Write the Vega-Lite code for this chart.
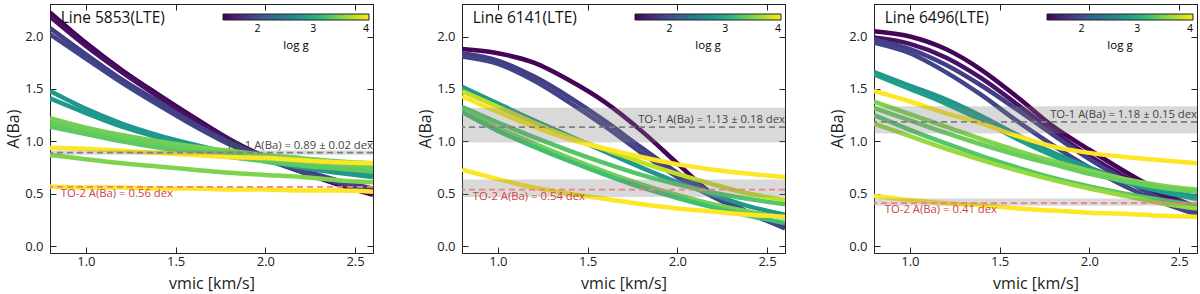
{
  "$schema": "https://vega.github.io/schema/vega-lite/v6.json",
  "padding": {"left": 5, "top": 3, "right": 0, "bottom": 0},
  "background": "white",
  "config": {
    "font": "Open Sans",
    "view": {"stroke": "#222", "strokeWidth": 1},
    "axis": {"grid": false, "domainColor": "#222", "tickColor": "#222", "tickSize": -6, "tickWidth": 1, "domainWidth": 1, "labelFontSize": 13, "labelColor": "#222", "titleFontSize": 16, "titleFontWeight": "normal", "titleColor": "#222"},
    "axisX": {"labelPadding": 8, "titlePadding": 7},
    "axisY": {"labelPadding": 13, "titlePadding": 3}
  },
  "resolve": {"scale": {"color": "independent"}, "legend": {"color": "independent"}},
  "spacing": 40,
  "datasets": {
    "curves": [
      {"p":1,"c":"a","g":1.40,"x":0.8,"y":2.23},{"p":1,"c":"a","g":1.40,"x":1.0,"y":1.94},{"p":1,"c":"a","g":1.40,"x":1.2,"y":1.68},{"p":1,"c":"a","g":1.40,"x":1.4,"y":1.45},{"p":1,"c":"a","g":1.40,"x":1.6,"y":1.23},{"p":1,"c":"a","g":1.40,"x":1.8,"y":1.02},{"p":1,"c":"a","g":1.40,"x":2.0,"y":0.85},{"p":1,"c":"a","g":1.40,"x":2.2,"y":0.71},{"p":1,"c":"a","g":1.40,"x":2.4,"y":0.59},{"p":1,"c":"a","g":1.40,"x":2.6,"y":0.49},
      {"p":1,"c":"b","g":1.48,"x":0.8,"y":2.19},{"p":1,"c":"b","g":1.48,"x":1.0,"y":1.91},{"p":1,"c":"b","g":1.48,"x":1.2,"y":1.66},{"p":1,"c":"b","g":1.48,"x":1.4,"y":1.43},{"p":1,"c":"b","g":1.48,"x":1.6,"y":1.21},{"p":1,"c":"b","g":1.48,"x":1.8,"y":1.01},{"p":1,"c":"b","g":1.48,"x":2.0,"y":0.85},{"p":1,"c":"b","g":1.48,"x":2.2,"y":0.71},{"p":1,"c":"b","g":1.48,"x":2.4,"y":0.60},{"p":1,"c":"b","g":1.48,"x":2.6,"y":0.51},
      {"p":1,"c":"c","g":1.85,"x":0.8,"y":2.08},{"p":1,"c":"c","g":1.85,"x":1.0,"y":1.83},{"p":1,"c":"c","g":1.85,"x":1.2,"y":1.59},{"p":1,"c":"c","g":1.85,"x":1.4,"y":1.38},{"p":1,"c":"c","g":1.85,"x":1.6,"y":1.17},{"p":1,"c":"c","g":1.85,"x":1.8,"y":0.99},{"p":1,"c":"c","g":1.85,"x":2.0,"y":0.85},{"p":1,"c":"c","g":1.85,"x":2.2,"y":0.73},{"p":1,"c":"c","g":1.85,"x":2.4,"y":0.63},{"p":1,"c":"c","g":1.85,"x":2.6,"y":0.55},
      {"p":1,"c":"d","g":1.90,"x":0.8,"y":2.02},{"p":1,"c":"d","g":1.90,"x":1.0,"y":1.79},{"p":1,"c":"d","g":1.90,"x":1.2,"y":1.56},{"p":1,"c":"d","g":1.90,"x":1.4,"y":1.35},{"p":1,"c":"d","g":1.90,"x":1.6,"y":1.15},{"p":1,"c":"d","g":1.90,"x":1.8,"y":0.97},{"p":1,"c":"d","g":1.90,"x":2.0,"y":0.83},{"p":1,"c":"d","g":1.90,"x":2.2,"y":0.71},{"p":1,"c":"d","g":1.90,"x":2.4,"y":0.61},{"p":1,"c":"d","g":1.90,"x":2.6,"y":0.53},
      {"p":1,"c":"e","g":2.75,"x":0.8,"y":1.48},{"p":1,"c":"e","g":2.75,"x":1.0,"y":1.31},{"p":1,"c":"e","g":2.75,"x":1.2,"y":1.17},{"p":1,"c":"e","g":2.75,"x":1.4,"y":1.06},{"p":1,"c":"e","g":2.75,"x":1.6,"y":0.97},{"p":1,"c":"e","g":2.75,"x":1.8,"y":0.89},{"p":1,"c":"e","g":2.75,"x":2.0,"y":0.82},{"p":1,"c":"e","g":2.75,"x":2.2,"y":0.77},{"p":1,"c":"e","g":2.75,"x":2.4,"y":0.72},{"p":1,"c":"e","g":2.75,"x":2.6,"y":0.68},
      {"p":1,"c":"f","g":2.80,"x":0.8,"y":1.41},{"p":1,"c":"f","g":2.80,"x":1.0,"y":1.27},{"p":1,"c":"f","g":2.80,"x":1.2,"y":1.14},{"p":1,"c":"f","g":2.80,"x":1.4,"y":1.04},{"p":1,"c":"f","g":2.80,"x":1.6,"y":0.95},{"p":1,"c":"f","g":2.80,"x":1.8,"y":0.87},{"p":1,"c":"f","g":2.80,"x":2.0,"y":0.81},{"p":1,"c":"f","g":2.80,"x":2.2,"y":0.75},{"p":1,"c":"f","g":2.80,"x":2.4,"y":0.70},{"p":1,"c":"f","g":2.80,"x":2.6,"y":0.66},
      {"p":1,"c":"g","g":3.45,"x":0.8,"y":1.22},{"p":1,"c":"g","g":3.45,"x":1.0,"y":1.13},{"p":1,"c":"g","g":3.45,"x":1.2,"y":1.06},{"p":1,"c":"g","g":3.45,"x":1.4,"y":1.00},{"p":1,"c":"g","g":3.45,"x":1.6,"y":0.95},{"p":1,"c":"g","g":3.45,"x":1.8,"y":0.91},{"p":1,"c":"g","g":3.45,"x":2.0,"y":0.87},{"p":1,"c":"g","g":3.45,"x":2.2,"y":0.84},{"p":1,"c":"g","g":3.45,"x":2.4,"y":0.81},{"p":1,"c":"g","g":3.45,"x":2.6,"y":0.79},
      {"p":1,"c":"h","g":3.40,"x":0.8,"y":1.18},{"p":1,"c":"h","g":3.40,"x":1.0,"y":1.10},{"p":1,"c":"h","g":3.40,"x":1.2,"y":1.03},{"p":1,"c":"h","g":3.40,"x":1.4,"y":0.97},{"p":1,"c":"h","g":3.40,"x":1.6,"y":0.92},{"p":1,"c":"h","g":3.40,"x":1.8,"y":0.88},{"p":1,"c":"h","g":3.40,"x":2.0,"y":0.84},{"p":1,"c":"h","g":3.40,"x":2.2,"y":0.80},{"p":1,"c":"h","g":3.40,"x":2.4,"y":0.77},{"p":1,"c":"h","g":3.40,"x":2.6,"y":0.75},
      {"p":1,"c":"i","g":3.35,"x":0.8,"y":1.14},{"p":1,"c":"i","g":3.35,"x":1.0,"y":1.07},{"p":1,"c":"i","g":3.35,"x":1.2,"y":1.00},{"p":1,"c":"i","g":3.35,"x":1.4,"y":0.94},{"p":1,"c":"i","g":3.35,"x":1.6,"y":0.89},{"p":1,"c":"i","g":3.35,"x":1.8,"y":0.85},{"p":1,"c":"i","g":3.35,"x":2.0,"y":0.81},{"p":1,"c":"i","g":3.35,"x":2.2,"y":0.77},{"p":1,"c":"i","g":3.35,"x":2.4,"y":0.74},{"p":1,"c":"i","g":3.35,"x":2.6,"y":0.71},
      {"p":1,"c":"j","g":3.50,"x":0.8,"y":0.87},{"p":1,"c":"j","g":3.50,"x":1.0,"y":0.83},{"p":1,"c":"j","g":3.50,"x":1.2,"y":0.79},{"p":1,"c":"j","g":3.50,"x":1.4,"y":0.76},{"p":1,"c":"j","g":3.50,"x":1.6,"y":0.73},{"p":1,"c":"j","g":3.50,"x":1.8,"y":0.70},{"p":1,"c":"j","g":3.50,"x":2.0,"y":0.68},{"p":1,"c":"j","g":3.50,"x":2.2,"y":0.66},{"p":1,"c":"j","g":3.50,"x":2.4,"y":0.63},{"p":1,"c":"j","g":3.50,"x":2.6,"y":0.61},
      {"p":1,"c":"k","g":4.00,"x":0.8,"y":0.94},{"p":1,"c":"k","g":4.00,"x":1.0,"y":0.93},{"p":1,"c":"k","g":4.00,"x":1.2,"y":0.91},{"p":1,"c":"k","g":4.00,"x":1.4,"y":0.89},{"p":1,"c":"k","g":4.00,"x":1.6,"y":0.87},{"p":1,"c":"k","g":4.00,"x":1.8,"y":0.85},{"p":1,"c":"k","g":4.00,"x":2.0,"y":0.84},{"p":1,"c":"k","g":4.00,"x":2.2,"y":0.82},{"p":1,"c":"k","g":4.00,"x":2.4,"y":0.80},{"p":1,"c":"k","g":4.00,"x":2.6,"y":0.79},
      {"p":1,"c":"l","g":4.00,"x":0.8,"y":0.57},{"p":1,"c":"l","g":4.00,"x":1.0,"y":0.56},{"p":1,"c":"l","g":4.00,"x":1.2,"y":0.56},{"p":1,"c":"l","g":4.00,"x":1.4,"y":0.55},{"p":1,"c":"l","g":4.00,"x":1.6,"y":0.55},{"p":1,"c":"l","g":4.00,"x":1.8,"y":0.54},{"p":1,"c":"l","g":4.00,"x":2.0,"y":0.54},{"p":1,"c":"l","g":4.00,"x":2.2,"y":0.53},{"p":1,"c":"l","g":4.00,"x":2.4,"y":0.53},{"p":1,"c":"l","g":4.00,"x":2.6,"y":0.52},

      {"p":2,"c":"a","g":1.40,"x":0.8,"y":1.88},{"p":2,"c":"a","g":1.40,"x":1.0,"y":1.84},{"p":2,"c":"a","g":1.40,"x":1.2,"y":1.75},{"p":2,"c":"a","g":1.40,"x":1.4,"y":1.58},{"p":2,"c":"a","g":1.40,"x":1.6,"y":1.37},{"p":2,"c":"a","g":1.40,"x":1.8,"y":1.10},{"p":2,"c":"a","g":1.40,"x":2.0,"y":0.79},{"p":2,"c":"a","g":1.40,"x":2.2,"y":0.49},{"p":2,"c":"a","g":1.40,"x":2.4,"y":0.31},{"p":2,"c":"a","g":1.40,"x":2.6,"y":0.21},
      {"p":2,"c":"b","g":1.85,"x":0.8,"y":1.84},{"p":2,"c":"b","g":1.85,"x":1.0,"y":1.77},{"p":2,"c":"b","g":1.85,"x":1.2,"y":1.62},{"p":2,"c":"b","g":1.85,"x":1.4,"y":1.42},{"p":2,"c":"b","g":1.85,"x":1.6,"y":1.19},{"p":2,"c":"b","g":1.85,"x":1.8,"y":0.94},{"p":2,"c":"b","g":1.85,"x":2.0,"y":0.70},{"p":2,"c":"b","g":1.85,"x":2.2,"y":0.50},{"p":2,"c":"b","g":1.85,"x":2.4,"y":0.32},{"p":2,"c":"b","g":1.85,"x":2.6,"y":0.17},
      {"p":2,"c":"c","g":1.90,"x":0.8,"y":1.81},{"p":2,"c":"c","g":1.90,"x":1.0,"y":1.74},{"p":2,"c":"c","g":1.90,"x":1.2,"y":1.58},{"p":2,"c":"c","g":1.90,"x":1.4,"y":1.37},{"p":2,"c":"c","g":1.90,"x":1.6,"y":1.14},{"p":2,"c":"c","g":1.90,"x":1.8,"y":0.89},{"p":2,"c":"c","g":1.90,"x":2.0,"y":0.66},{"p":2,"c":"c","g":1.90,"x":2.2,"y":0.47},{"p":2,"c":"c","g":1.90,"x":2.4,"y":0.31},{"p":2,"c":"c","g":1.90,"x":2.6,"y":0.18},
      {"p":2,"c":"d","g":2.75,"x":0.8,"y":1.52},{"p":2,"c":"d","g":2.75,"x":1.0,"y":1.36},{"p":2,"c":"d","g":2.75,"x":1.2,"y":1.20},{"p":2,"c":"d","g":2.75,"x":1.4,"y":1.05},{"p":2,"c":"d","g":2.75,"x":1.6,"y":0.90},{"p":2,"c":"d","g":2.75,"x":1.8,"y":0.75},{"p":2,"c":"d","g":2.75,"x":2.0,"y":0.61},{"p":2,"c":"d","g":2.75,"x":2.2,"y":0.49},{"p":2,"c":"d","g":2.75,"x":2.4,"y":0.38},{"p":2,"c":"d","g":2.75,"x":2.6,"y":0.30},
      {"p":2,"c":"e","g":3.30,"x":0.8,"y":1.33},{"p":2,"c":"e","g":3.30,"x":1.0,"y":1.18},{"p":2,"c":"e","g":3.30,"x":1.2,"y":1.04},{"p":2,"c":"e","g":3.30,"x":1.4,"y":0.91},{"p":2,"c":"e","g":3.30,"x":1.6,"y":0.79},{"p":2,"c":"e","g":3.30,"x":1.8,"y":0.68},{"p":2,"c":"e","g":3.30,"x":2.0,"y":0.59},{"p":2,"c":"e","g":3.30,"x":2.2,"y":0.51},{"p":2,"c":"e","g":3.30,"x":2.4,"y":0.45},{"p":2,"c":"e","g":3.30,"x":2.6,"y":0.40},
      {"p":2,"c":"f","g":3.45,"x":0.8,"y":1.30},{"p":2,"c":"f","g":3.45,"x":1.0,"y":1.13},{"p":2,"c":"f","g":3.45,"x":1.2,"y":0.98},{"p":2,"c":"f","g":3.45,"x":1.4,"y":0.84},{"p":2,"c":"f","g":3.45,"x":1.6,"y":0.71},{"p":2,"c":"f","g":3.45,"x":1.8,"y":0.59},{"p":2,"c":"f","g":3.45,"x":2.0,"y":0.49},{"p":2,"c":"f","g":3.45,"x":2.2,"y":0.40},{"p":2,"c":"f","g":3.45,"x":2.4,"y":0.33},{"p":2,"c":"f","g":3.45,"x":2.6,"y":0.27},
      {"p":2,"c":"g","g":3.20,"x":0.8,"y":1.28},{"p":2,"c":"g","g":3.20,"x":1.0,"y":1.10},{"p":2,"c":"g","g":3.20,"x":1.2,"y":0.95},{"p":2,"c":"g","g":3.20,"x":1.4,"y":0.81},{"p":2,"c":"g","g":3.20,"x":1.6,"y":0.68},{"p":2,"c":"g","g":3.20,"x":1.8,"y":0.56},{"p":2,"c":"g","g":3.20,"x":2.0,"y":0.46},{"p":2,"c":"g","g":3.20,"x":2.2,"y":0.37},{"p":2,"c":"g","g":3.20,"x":2.4,"y":0.29},{"p":2,"c":"g","g":3.20,"x":2.6,"y":0.22},
      {"p":2,"c":"h","g":3.75,"x":0.8,"y":1.48},{"p":2,"c":"h","g":3.75,"x":1.0,"y":1.33},{"p":2,"c":"h","g":3.75,"x":1.2,"y":1.18},{"p":2,"c":"h","g":3.75,"x":1.4,"y":1.04},{"p":2,"c":"h","g":3.75,"x":1.6,"y":0.92},{"p":2,"c":"h","g":3.75,"x":1.8,"y":0.80},{"p":2,"c":"h","g":3.75,"x":2.0,"y":0.69},{"p":2,"c":"h","g":3.75,"x":2.2,"y":0.59},{"p":2,"c":"h","g":3.75,"x":2.4,"y":0.50},{"p":2,"c":"h","g":3.75,"x":2.6,"y":0.44},
      {"p":2,"c":"i","g":4.00,"x":0.8,"y":1.43},{"p":2,"c":"i","g":4.00,"x":1.0,"y":1.28},{"p":2,"c":"i","g":4.00,"x":1.2,"y":1.14},{"p":2,"c":"i","g":4.00,"x":1.4,"y":1.02},{"p":2,"c":"i","g":4.00,"x":1.6,"y":0.93},{"p":2,"c":"i","g":4.00,"x":1.8,"y":0.85},{"p":2,"c":"i","g":4.00,"x":2.0,"y":0.78},{"p":2,"c":"i","g":4.00,"x":2.2,"y":0.73},{"p":2,"c":"i","g":4.00,"x":2.4,"y":0.69},{"p":2,"c":"i","g":4.00,"x":2.6,"y":0.66},
      {"p":2,"c":"j","g":4.00,"x":0.8,"y":0.73},{"p":2,"c":"j","g":4.00,"x":1.0,"y":0.64},{"p":2,"c":"j","g":4.00,"x":1.2,"y":0.56},{"p":2,"c":"j","g":4.00,"x":1.4,"y":0.50},{"p":2,"c":"j","g":4.00,"x":1.6,"y":0.45},{"p":2,"c":"j","g":4.00,"x":1.8,"y":0.40},{"p":2,"c":"j","g":4.00,"x":2.0,"y":0.36},{"p":2,"c":"j","g":4.00,"x":2.2,"y":0.33},{"p":2,"c":"j","g":4.00,"x":2.4,"y":0.30},{"p":2,"c":"j","g":4.00,"x":2.6,"y":0.28},

      {"p":3,"c":"a","g":1.40,"x":0.8,"y":2.05},{"p":3,"c":"a","g":1.40,"x":1.0,"y":2.00},{"p":3,"c":"a","g":1.40,"x":1.2,"y":1.88},{"p":3,"c":"a","g":1.40,"x":1.4,"y":1.68},{"p":3,"c":"a","g":1.40,"x":1.6,"y":1.42},{"p":3,"c":"a","g":1.40,"x":1.8,"y":1.14},{"p":3,"c":"a","g":1.40,"x":2.0,"y":0.92},{"p":3,"c":"a","g":1.40,"x":2.2,"y":0.71},{"p":3,"c":"a","g":1.40,"x":2.4,"y":0.52},{"p":3,"c":"a","g":1.40,"x":2.6,"y":0.37},
      {"p":3,"c":"b","g":1.50,"x":0.8,"y":1.99},{"p":3,"c":"b","g":1.50,"x":1.0,"y":1.93},{"p":3,"c":"b","g":1.50,"x":1.2,"y":1.80},{"p":3,"c":"b","g":1.50,"x":1.4,"y":1.60},{"p":3,"c":"b","g":1.50,"x":1.6,"y":1.35},{"p":3,"c":"b","g":1.50,"x":1.8,"y":1.09},{"p":3,"c":"b","g":1.50,"x":2.0,"y":0.86},{"p":3,"c":"b","g":1.50,"x":2.2,"y":0.66},{"p":3,"c":"b","g":1.50,"x":2.4,"y":0.49},{"p":3,"c":"b","g":1.50,"x":2.6,"y":0.35},
      {"p":3,"c":"c","g":1.85,"x":0.8,"y":1.97},{"p":3,"c":"c","g":1.85,"x":1.0,"y":1.88},{"p":3,"c":"c","g":1.85,"x":1.2,"y":1.73},{"p":3,"c":"c","g":1.85,"x":1.4,"y":1.53},{"p":3,"c":"c","g":1.85,"x":1.6,"y":1.30},{"p":3,"c":"c","g":1.85,"x":1.8,"y":1.06},{"p":3,"c":"c","g":1.85,"x":2.0,"y":0.83},{"p":3,"c":"c","g":1.85,"x":2.2,"y":0.63},{"p":3,"c":"c","g":1.85,"x":2.4,"y":0.45},{"p":3,"c":"c","g":1.85,"x":2.6,"y":0.32},
      {"p":3,"c":"d","g":1.90,"x":0.8,"y":1.94},{"p":3,"c":"d","g":1.90,"x":1.0,"y":1.84},{"p":3,"c":"d","g":1.90,"x":1.2,"y":1.66},{"p":3,"c":"d","g":1.90,"x":1.4,"y":1.44},{"p":3,"c":"d","g":1.90,"x":1.6,"y":1.19},{"p":3,"c":"d","g":1.90,"x":1.8,"y":0.96},{"p":3,"c":"d","g":1.90,"x":2.0,"y":0.75},{"p":3,"c":"d","g":1.90,"x":2.2,"y":0.57},{"p":3,"c":"d","g":1.90,"x":2.4,"y":0.42},{"p":3,"c":"d","g":1.90,"x":2.6,"y":0.30},
      {"p":3,"c":"e","g":2.75,"x":0.8,"y":1.66},{"p":3,"c":"e","g":2.75,"x":1.0,"y":1.53},{"p":3,"c":"e","g":2.75,"x":1.2,"y":1.40},{"p":3,"c":"e","g":2.75,"x":1.4,"y":1.24},{"p":3,"c":"e","g":2.75,"x":1.6,"y":1.06},{"p":3,"c":"e","g":2.75,"x":1.8,"y":0.89},{"p":3,"c":"e","g":2.75,"x":2.0,"y":0.75},{"p":3,"c":"e","g":2.75,"x":2.2,"y":0.63},{"p":3,"c":"e","g":2.75,"x":2.4,"y":0.54},{"p":3,"c":"e","g":2.75,"x":2.6,"y":0.47},
      {"p":3,"c":"f","g":2.85,"x":0.8,"y":1.64},{"p":3,"c":"f","g":2.85,"x":1.0,"y":1.50},{"p":3,"c":"f","g":2.85,"x":1.2,"y":1.36},{"p":3,"c":"f","g":2.85,"x":1.4,"y":1.20},{"p":3,"c":"f","g":2.85,"x":1.6,"y":1.02},{"p":3,"c":"f","g":2.85,"x":1.8,"y":0.86},{"p":3,"c":"f","g":2.85,"x":2.0,"y":0.72},{"p":3,"c":"f","g":2.85,"x":2.2,"y":0.61},{"p":3,"c":"f","g":2.85,"x":2.4,"y":0.52},{"p":3,"c":"f","g":2.85,"x":2.6,"y":0.45},
      {"p":3,"c":"h","g":3.50,"x":0.8,"y":1.38},{"p":3,"c":"h","g":3.50,"x":1.0,"y":1.26},{"p":3,"c":"h","g":3.50,"x":1.2,"y":1.14},{"p":3,"c":"h","g":3.50,"x":1.4,"y":1.02},{"p":3,"c":"h","g":3.50,"x":1.6,"y":0.91},{"p":3,"c":"h","g":3.50,"x":1.8,"y":0.81},{"p":3,"c":"h","g":3.50,"x":2.0,"y":0.72},{"p":3,"c":"h","g":3.50,"x":2.2,"y":0.64},{"p":3,"c":"h","g":3.50,"x":2.4,"y":0.58},{"p":3,"c":"h","g":3.50,"x":2.6,"y":0.54},
      {"p":3,"c":"i","g":3.40,"x":0.8,"y":1.32},{"p":3,"c":"i","g":3.40,"x":1.0,"y":1.20},{"p":3,"c":"i","g":3.40,"x":1.2,"y":1.08},{"p":3,"c":"i","g":3.40,"x":1.4,"y":0.97},{"p":3,"c":"i","g":3.40,"x":1.6,"y":0.87},{"p":3,"c":"i","g":3.40,"x":1.8,"y":0.78},{"p":3,"c":"i","g":3.40,"x":2.0,"y":0.69},{"p":3,"c":"i","g":3.40,"x":2.2,"y":0.62},{"p":3,"c":"i","g":3.40,"x":2.4,"y":0.56},{"p":3,"c":"i","g":3.40,"x":2.6,"y":0.52},
      {"p":3,"c":"j","g":3.30,"x":0.8,"y":1.25},{"p":3,"c":"j","g":3.30,"x":1.0,"y":1.11},{"p":3,"c":"j","g":3.30,"x":1.2,"y":0.98},{"p":3,"c":"j","g":3.30,"x":1.4,"y":0.86},{"p":3,"c":"j","g":3.30,"x":1.6,"y":0.75},{"p":3,"c":"j","g":3.30,"x":1.8,"y":0.65},{"p":3,"c":"j","g":3.30,"x":2.0,"y":0.57},{"p":3,"c":"j","g":3.30,"x":2.2,"y":0.50},{"p":3,"c":"j","g":3.30,"x":2.4,"y":0.44},{"p":3,"c":"j","g":3.30,"x":2.6,"y":0.39},
      {"p":3,"c":"k","g":3.60,"x":0.8,"y":1.17},{"p":3,"c":"k","g":3.60,"x":1.0,"y":1.05},{"p":3,"c":"k","g":3.60,"x":1.2,"y":0.93},{"p":3,"c":"k","g":3.60,"x":1.4,"y":0.82},{"p":3,"c":"k","g":3.60,"x":1.6,"y":0.72},{"p":3,"c":"k","g":3.60,"x":1.8,"y":0.63},{"p":3,"c":"k","g":3.60,"x":2.0,"y":0.55},{"p":3,"c":"k","g":3.60,"x":2.2,"y":0.48},{"p":3,"c":"k","g":3.60,"x":2.4,"y":0.41},{"p":3,"c":"k","g":3.60,"x":2.6,"y":0.36},
      {"p":3,"c":"g","g":4.00,"x":0.8,"y":1.48},{"p":3,"c":"g","g":4.00,"x":1.0,"y":1.38},{"p":3,"c":"g","g":4.00,"x":1.2,"y":1.27},{"p":3,"c":"g","g":4.00,"x":1.4,"y":1.17},{"p":3,"c":"g","g":4.00,"x":1.6,"y":1.05},{"p":3,"c":"g","g":4.00,"x":1.8,"y":0.95},{"p":3,"c":"g","g":4.00,"x":2.0,"y":0.89},{"p":3,"c":"g","g":4.00,"x":2.2,"y":0.85},{"p":3,"c":"g","g":4.00,"x":2.4,"y":0.82},{"p":3,"c":"g","g":4.00,"x":2.6,"y":0.79},
      {"p":3,"c":"l","g":4.00,"x":0.8,"y":0.48},{"p":3,"c":"l","g":4.00,"x":1.0,"y":0.44},{"p":3,"c":"l","g":4.00,"x":1.2,"y":0.41},{"p":3,"c":"l","g":4.00,"x":1.4,"y":0.39},{"p":3,"c":"l","g":4.00,"x":1.6,"y":0.36},{"p":3,"c":"l","g":4.00,"x":1.8,"y":0.34},{"p":3,"c":"l","g":4.00,"x":2.0,"y":0.32},{"p":3,"c":"l","g":4.00,"x":2.2,"y":0.31},{"p":3,"c":"l","g":4.00,"x":2.4,"y":0.29},{"p":3,"c":"l","g":4.00,"x":2.6,"y":0.28}
    ],
    "refs": [
      {"p":1,"k":"TO-1","v":0.893,"lo":0.873,"hi":0.913,"label":"TO-1  A(Ba) = 0.89 ± 0.02 dex"},
      {"p":1,"k":"TO-2","v":0.565,"lo":0.565,"hi":0.565,"label":"TO-2  A(Ba) = 0.56 dex"},
      {"p":2,"k":"TO-1","v":1.135,"lo":0.99,"hi":1.32,"label":"TO-1  A(Ba) = 1.13 ± 0.18 dex"},
      {"p":2,"k":"TO-2","v":0.54,"lo":0.47,"hi":0.635,"label":"TO-2  A(Ba) = 0.54 dex"},
      {"p":3,"k":"TO-1","v":1.185,"lo":1.075,"hi":1.335,"label":"TO-1  A(Ba) = 1.18 ± 0.15 dex"},
      {"p":3,"k":"TO-2","v":0.41,"lo":0.385,"hi":0.455,"label":"TO-2  A(Ba) = 0.41 dex"}
    ],
    "lines": [
      {"p":1,"name":"Line 5853(LTE)"},
      {"p":2,"name":"Line 6141(LTE)"},
      {"p":3,"name":"Line 6496(LTE)"}
    ]
  },
  "hconcat": [
    {
      "width": 323, "height": 249,
      "resolve": {"axis": {"x": "independent", "y": "independent"}},
      "layer": [
        {"data": {"name": "curves"}, "transform": [{"filter": "datum.p == 1"}],
         "mark": {"type": "line", "strokeWidth": 4.5, "interpolate": "monotone", "clip": true},
         "encoding": {
           "x": {"field": "x", "type": "quantitative", "scale": {"domain": [0.8, 2.6], "nice": false, "zero": false}, "axis": {"orient": "bottom", "values": [1.0, 1.5, 2.0, 2.5], "format": ".1f", "title": "vmic [km/s]"}},
           "y": {"field": "y", "type": "quantitative", "scale": {"domain": [-0.065, 2.31], "nice": false, "zero": false}, "axis": {"orient": "left", "values": [0, 0.5, 1, 1.5, 2], "format": ".1f", "title": "A(Ba)"}},
           "color": {"field": "g", "type": "quantitative", "scale": {"scheme": "viridis", "domain": [1.38, 4.0]}, "legend": {"orient": "none", "legendX": 173, "legendY": 10, "direction": "horizontal", "gradientLength": 146, "gradientThickness": 6, "title": "log g", "titleOrient": "bottom", "titleAnchor": "middle", "values": [2, 3, 4], "labelFontSize": 10.5, "labelOffset": 4, "titlePadding": 5, "titleFontSize": 11.5, "titleFontWeight": "normal", "gradientStrokeColor": "#222", "gradientStrokeWidth": 1}},
           "detail": {"field": "c"}
         }},
        {"data": {"name": "curves"}, "transform": [{"filter": "datum.p == 1"}],
         "mark": {"type": "point", "opacity": 0},
         "encoding": {
           "x": {"field": "x", "type": "quantitative", "scale": {"domain": [0.8, 2.6], "nice": false, "zero": false}, "axis": {"orient": "top", "values": [1.0, 1.5, 2.0, 2.5], "labels": false, "title": null}},
           "y": {"field": "y", "type": "quantitative", "scale": {"domain": [-0.065, 2.31], "nice": false, "zero": false}, "axis": {"orient": "right", "values": [0, 0.5, 1, 1.5, 2], "labels": false, "title": null}}
         }},
        {"data": {"name": "refs"}, "transform": [{"filter": "datum.p == 1"}],
         "mark": {"type": "rect", "color": "gray", "opacity": 0.3},
         "encoding": {
           "x": {"datum": 0.8, "type": "quantitative", "axis": null},
           "x2": {"datum": 2.6},
           "y": {"field": "lo", "type": "quantitative", "axis": null},
           "y2": {"field": "hi"}
         }},
        {"data": {"name": "refs"}, "transform": [{"filter": "datum.p == 1 && datum.k == 'TO-1'"}],
         "mark": {"type": "rule", "color": "#808080", "strokeWidth": 1.8, "strokeDash": [6, 4]},
         "encoding": {"y": {"field": "v", "type": "quantitative", "axis": null}}},
        {"data": {"name": "refs"}, "transform": [{"filter": "datum.p == 1 && datum.k == 'TO-2'"}],
         "mark": {"type": "rule", "color": "#f08080", "strokeWidth": 1.8, "strokeDash": [6, 4]},
         "encoding": {"y": {"field": "v", "type": "quantitative", "axis": null}}},
        {"data": {"name": "refs"}, "transform": [{"filter": "datum.p == 1 && datum.k == 'TO-1'"}],
         "mark": {"type": "text", "align": "right", "baseline": "bottom", "dy": -2, "fontSize": 11.3, "color": "#444"},
         "encoding": {"x": {"datum": 2.6, "type": "quantitative", "axis": null}, "y": {"field": "v", "type": "quantitative", "axis": null}, "text": {"field": "label"}}},
        {"data": {"name": "refs"}, "transform": [{"filter": "datum.p == 1 && datum.k == 'TO-2'"}],
         "mark": {"type": "text", "align": "left", "baseline": "top", "dy": 1, "fontSize": 11.3, "color": "#cc4444"},
         "encoding": {"x": {"datum": 0.86, "type": "quantitative", "axis": null}, "y": {"field": "v", "type": "quantitative", "axis": null}, "text": {"field": "label"}}},
        {"data": {"name": "lines"}, "transform": [{"filter": "datum.p == 1"}],
         "mark": {"type": "text", "align": "left", "baseline": "middle", "fontSize": 15.5, "color": "#111"},
         "encoding": {"x": {"datum": 0.86, "type": "quantitative", "axis": null}, "y": {"datum": 2.18, "type": "quantitative", "axis": null}, "text": {"field": "name"}}}
      ]
    },
    {
      "width": 323, "height": 249,
      "resolve": {"axis": {"x": "independent", "y": "independent"}},
      "layer": [
        {"data": {"name": "curves"}, "transform": [{"filter": "datum.p == 2"}],
         "mark": {"type": "line", "strokeWidth": 4.5, "interpolate": "monotone", "clip": true},
         "encoding": {
           "x": {"field": "x", "type": "quantitative", "scale": {"domain": [0.8, 2.6], "nice": false, "zero": false}, "axis": {"orient": "bottom", "values": [1.0, 1.5, 2.0, 2.5], "format": ".1f", "title": "vmic [km/s]"}},
           "y": {"field": "y", "type": "quantitative", "scale": {"domain": [-0.065, 2.31], "nice": false, "zero": false}, "axis": {"orient": "left", "values": [0, 0.5, 1, 1.5, 2], "format": ".1f", "title": "A(Ba)"}},
           "color": {"field": "g", "type": "quantitative", "scale": {"scheme": "viridis", "domain": [1.38, 4.0]}, "legend": {"orient": "none", "legendX": 173, "legendY": 10, "direction": "horizontal", "gradientLength": 146, "gradientThickness": 6, "title": "log g", "titleOrient": "bottom", "titleAnchor": "middle", "values": [2, 3, 4], "labelFontSize": 10.5, "labelOffset": 4, "titlePadding": 5, "titleFontSize": 11.5, "titleFontWeight": "normal", "gradientStrokeColor": "#222", "gradientStrokeWidth": 1}},
           "detail": {"field": "c"}
         }},
        {"data": {"name": "curves"}, "transform": [{"filter": "datum.p == 2"}],
         "mark": {"type": "point", "opacity": 0},
         "encoding": {
           "x": {"field": "x", "type": "quantitative", "scale": {"domain": [0.8, 2.6], "nice": false, "zero": false}, "axis": {"orient": "top", "values": [1.0, 1.5, 2.0, 2.5], "labels": false, "title": null}},
           "y": {"field": "y", "type": "quantitative", "scale": {"domain": [-0.065, 2.31], "nice": false, "zero": false}, "axis": {"orient": "right", "values": [0, 0.5, 1, 1.5, 2], "labels": false, "title": null}}
         }},
        {"data": {"name": "refs"}, "transform": [{"filter": "datum.p == 2"}],
         "mark": {"type": "rect", "color": "gray", "opacity": 0.3},
         "encoding": {
           "x": {"datum": 0.8, "type": "quantitative", "axis": null},
           "x2": {"datum": 2.6},
           "y": {"field": "lo", "type": "quantitative", "axis": null},
           "y2": {"field": "hi"}
         }},
        {"data": {"name": "refs"}, "transform": [{"filter": "datum.p == 2 && datum.k == 'TO-1'"}],
         "mark": {"type": "rule", "color": "#808080", "strokeWidth": 1.8, "strokeDash": [6, 4]},
         "encoding": {"y": {"field": "v", "type": "quantitative", "axis": null}}},
        {"data": {"name": "refs"}, "transform": [{"filter": "datum.p == 2 && datum.k == 'TO-2'"}],
         "mark": {"type": "rule", "color": "#f08080", "strokeWidth": 1.8, "strokeDash": [6, 4]},
         "encoding": {"y": {"field": "v", "type": "quantitative", "axis": null}}},
        {"data": {"name": "refs"}, "transform": [{"filter": "datum.p == 2 && datum.k == 'TO-1'"}],
         "mark": {"type": "text", "align": "right", "baseline": "bottom", "dy": -2, "fontSize": 11.3, "color": "#444"},
         "encoding": {"x": {"datum": 2.6, "type": "quantitative", "axis": null}, "y": {"field": "v", "type": "quantitative", "axis": null}, "text": {"field": "label"}}},
        {"data": {"name": "refs"}, "transform": [{"filter": "datum.p == 2 && datum.k == 'TO-2'"}],
         "mark": {"type": "text", "align": "left", "baseline": "top", "dy": 1, "fontSize": 11.3, "color": "#cc4444"},
         "encoding": {"x": {"datum": 0.86, "type": "quantitative", "axis": null}, "y": {"field": "v", "type": "quantitative", "axis": null}, "text": {"field": "label"}}},
        {"data": {"name": "lines"}, "transform": [{"filter": "datum.p == 2"}],
         "mark": {"type": "text", "align": "left", "baseline": "middle", "fontSize": 15.5, "color": "#111"},
         "encoding": {"x": {"datum": 0.86, "type": "quantitative", "axis": null}, "y": {"datum": 2.18, "type": "quantitative", "axis": null}, "text": {"field": "name"}}}
      ]
    },
    {
      "width": 323, "height": 249,
      "resolve": {"axis": {"x": "independent", "y": "independent"}},
      "layer": [
        {"data": {"name": "curves"}, "transform": [{"filter": "datum.p == 3"}],
         "mark": {"type": "line", "strokeWidth": 4.5, "interpolate": "monotone", "clip": true},
         "encoding": {
           "x": {"field": "x", "type": "quantitative", "scale": {"domain": [0.8, 2.6], "nice": false, "zero": false}, "axis": {"orient": "bottom", "values": [1.0, 1.5, 2.0, 2.5], "format": ".1f", "title": "vmic [km/s]"}},
           "y": {"field": "y", "type": "quantitative", "scale": {"domain": [-0.065, 2.31], "nice": false, "zero": false}, "axis": {"orient": "left", "values": [0, 0.5, 1, 1.5, 2], "format": ".1f", "title": "A(Ba)"}},
           "color": {"field": "g", "type": "quantitative", "scale": {"scheme": "viridis", "domain": [1.38, 4.0]}, "legend": {"orient": "none", "legendX": 173, "legendY": 10, "direction": "horizontal", "gradientLength": 146, "gradientThickness": 6, "title": "log g", "titleOrient": "bottom", "titleAnchor": "middle", "values": [2, 3, 4], "labelFontSize": 10.5, "labelOffset": 4, "titlePadding": 5, "titleFontSize": 11.5, "titleFontWeight": "normal", "gradientStrokeColor": "#222", "gradientStrokeWidth": 1}},
           "detail": {"field": "c"}
         }},
        {"data": {"name": "curves"}, "transform": [{"filter": "datum.p == 3"}],
         "mark": {"type": "point", "opacity": 0},
         "encoding": {
           "x": {"field": "x", "type": "quantitative", "scale": {"domain": [0.8, 2.6], "nice": false, "zero": false}, "axis": {"orient": "top", "values": [1.0, 1.5, 2.0, 2.5], "labels": false, "title": null}},
           "y": {"field": "y", "type": "quantitative", "scale": {"domain": [-0.065, 2.31], "nice": false, "zero": false}, "axis": {"orient": "right", "values": [0, 0.5, 1, 1.5, 2], "labels": false, "title": null}}
         }},
        {"data": {"name": "refs"}, "transform": [{"filter": "datum.p == 3"}],
         "mark": {"type": "rect", "color": "gray", "opacity": 0.3},
         "encoding": {
           "x": {"datum": 0.8, "type": "quantitative", "axis": null},
           "x2": {"datum": 2.6},
           "y": {"field": "lo", "type": "quantitative", "axis": null},
           "y2": {"field": "hi"}
         }},
        {"data": {"name": "refs"}, "transform": [{"filter": "datum.p == 3 && datum.k == 'TO-1'"}],
         "mark": {"type": "rule", "color": "#808080", "strokeWidth": 1.8, "strokeDash": [6, 4]},
         "encoding": {"y": {"field": "v", "type": "quantitative", "axis": null}}},
        {"data": {"name": "refs"}, "transform": [{"filter": "datum.p == 3 && datum.k == 'TO-2'"}],
         "mark": {"type": "rule", "color": "#f08080", "strokeWidth": 1.8, "strokeDash": [6, 4]},
         "encoding": {"y": {"field": "v", "type": "quantitative", "axis": null}}},
        {"data": {"name": "refs"}, "transform": [{"filter": "datum.p == 3 && datum.k == 'TO-1'"}],
         "mark": {"type": "text", "align": "right", "baseline": "bottom", "dy": -2, "fontSize": 11.3, "color": "#444"},
         "encoding": {"x": {"datum": 2.6, "type": "quantitative", "axis": null}, "y": {"field": "v", "type": "quantitative", "axis": null}, "text": {"field": "label"}}},
        {"data": {"name": "refs"}, "transform": [{"filter": "datum.p == 3 && datum.k == 'TO-2'"}],
         "mark": {"type": "text", "align": "left", "baseline": "top", "dy": 1, "fontSize": 11.3, "color": "#cc4444"},
         "encoding": {"x": {"datum": 0.86, "type": "quantitative", "axis": null}, "y": {"field": "v", "type": "quantitative", "axis": null}, "text": {"field": "label"}}},
        {"data": {"name": "lines"}, "transform": [{"filter": "datum.p == 3"}],
         "mark": {"type": "text", "align": "left", "baseline": "middle", "fontSize": 15.5, "color": "#111"},
         "encoding": {"x": {"datum": 0.86, "type": "quantitative", "axis": null}, "y": {"datum": 2.18, "type": "quantitative", "axis": null}, "text": {"field": "name"}}}
      ]
    }
  ]
}
